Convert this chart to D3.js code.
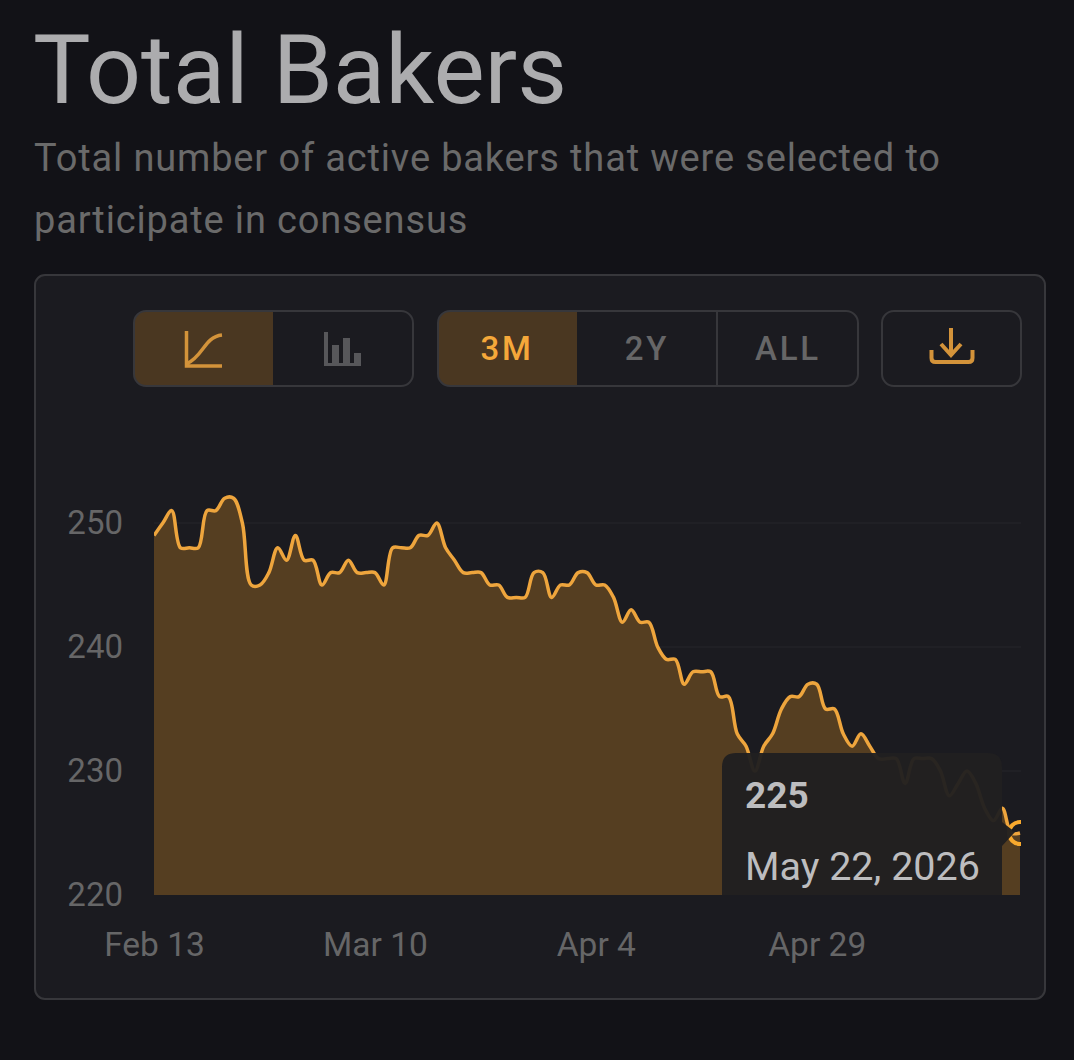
<!DOCTYPE html>
<html>
<head>
<meta charset="utf-8">
<title>Total Bakers</title>
<style type="text/css">
	html, body { margin: 0; padding: 0; background: #121217; }
	svg { display: block; font-family: Roboto, sans-serif; }
	.grid line { stroke: #202025; stroke-width: 2; }
	.axis text { fill: #666667; font-family: Roboto, sans-serif; }
	.axis path, .axis line { display: none; }
</style>
<script src="https://cdn.jsdelivr.net/npm/d3@7"></script>
</head>
<body>
<div id="chart"></div>
<script type="text/javascript">
var startDate = '2026-02-13';

// one value per day from Feb 13
var bakers = [
	249, 250, 251, 248, 248, 248, 251, 251, 252, 252,
	250, 245, 245, 246, 248, 247, 249, 247, 247, 245,
	246, 246, 247, 246, 246, 246, 245, 248, 248, 248,
	249, 249, 250, 248, 247, 246, 246, 246, 245, 245,
	244, 244, 244, 246, 246, 244, 245, 245, 246, 246,
	245, 245, 244, 242, 243, 242, 242, 240, 239, 239,
	237, 238, 238, 238, 236, 236, 233, 232, 230, 232,
	233, 235, 236, 236, 237, 237, 235, 235, 233, 232,
	233, 232, 231, 231, 231, 229, 231, 231, 231, 230,
	228, 229, 230, 229, 227, 226, 227, 225, 225
];

var yTicks = [220, 230, 240, 250];
var xTickLabels = ['Feb 13', 'Mar 10', 'Apr 4', 'Apr 29'];
var xTickDays = [0, 25, 50, 75];
var chartTypes = ['line', 'bar'];
var ranges = ['3M', '2Y', 'ALL'];
var tooltipValue = '225';
var tooltipDate = 'May 22, 2026';

var width = 1074, height = 1060;
var plot = { left: 154, right: 1021, top: 430, bottom: 895 };

var svg = d3.select('#chart').append('svg')
	.attr('width', width)
	.attr('height', height);

// heading
svg.append('text').attr('x', 33).attr('y', 102.5)
	.attr('fill', '#acacae').attr('font-size', 96.6).text('Total Bakers');
svg.append('text').attr('x', 34).attr('y', 171)
	.attr('fill', '#6a6a6a').attr('font-size', 38).attr('letter-spacing', 0.85)
	.text('Total number of active bakers that were selected to');
svg.append('text').attr('x', 34).attr('y', 233)
	.attr('fill', '#6a6a6a').attr('font-size', 38).attr('letter-spacing', 0.85)
	.text('participate in consensus');

// panel
svg.append('rect')
	.attr('x', 35).attr('y', 275).attr('width', 1010).attr('height', 724).attr('rx', 10)
	.attr('fill', '#1b1b20').attr('stroke', '#37373b').attr('stroke-width', 2);

// button groups
var activeFill = '#4a3721', btnStroke = '#37373b';
var drawGroup = function(x, w, cellWidths, activeIndex) {
	var y = 311, h = 75;
	var clipId = 'clip' + x;
	svg.append('clipPath').attr('id', clipId).append('rect')
		.attr('x', x).attr('y', y).attr('width', w).attr('height', h).attr('rx', 12);
	var g = svg.append('g');
	var pos = x;
	cellWidths.forEach(function(cw, i) {
		if (i == activeIndex) {
			g.append('rect').attr('x', pos).attr('y', y).attr('width', cw).attr('height', h)
				.attr('fill', activeFill).attr('clip-path', 'url(#' + clipId + ')');
		}
		else if (i > activeIndex + 1) {
			g.append('line').attr('x1', pos).attr('x2', pos).attr('y1', y).attr('y2', y + h)
				.attr('stroke', btnStroke).attr('stroke-width', 2);
		}
		pos += cw;
	});
	g.append('rect').attr('x', x).attr('y', y).attr('width', w).attr('height', h).attr('rx', 12)
		.attr('fill', 'none').attr('stroke', btnStroke).attr('stroke-width', 2);
};
drawGroup(134, 279, [139, 140], chartTypes.indexOf('line'));
drawGroup(438, 420, [139, 140, 141], ranges.indexOf('3M'));
drawGroup(882, 139, [139], -1);

// line icon
svg.append('path')
	.attr('d', 'M186.5 331V366H222M186.5 364C204 356 204 337 222 335')
	.attr('fill', 'none').attr('stroke', '#d3933a').attr('stroke-width', 3.5);
// bar icon
svg.append('path')
	.attr('d', 'M324 332h4v31h4v-18h7v18h4v-25h7v25h4v-10h7v13h-37z')
	.attr('fill', '#57575a');
// download icon
svg.append('path')
	.attr('d', 'M951 328V356M941 344L951 355L961 344M931.5 350V358Q931.5 362 935.5 362H968.5Q972.5 362 972.5 358V350')
	.attr('fill', 'none').attr('stroke', '#d3933a').attr('stroke-width', 4);

var rangeX = [507, 647, 788];
ranges.forEach(function(r, i) {
	svg.append('text').attr('x', rangeX[i]).attr('y', 360)
		.attr('text-anchor', 'middle').attr('font-size', 33).attr('font-weight', 500)
		.attr('letter-spacing', 2.8)
		.attr('fill', i == 0 ? '#f5a83a' : '#666667').text(r);
});

// scales and axes
var x = d3.scaleLinear().domain([0, 98]).range([154, 1020]);
var y = d3.scaleLinear().domain([220, 250]).range([plot.bottom, 523]);

svg.append('g').attr('class', 'grid').selectAll('line')
	.data(yTicks.filter(function(d) { return d > 220; }))
	.enter().append('line')
	.attr('x1', plot.left).attr('x2', plot.right)
	.attr('y1', function(d) { return y(d); })
	.attr('y2', function(d) { return y(d); });

var yAxis = svg.append('g').attr('class', 'axis')
	.attr('transform', 'translate(128,0)')
	.call(d3.axisLeft(y).tickValues(yTicks).tickSize(0).tickPadding(5));
yAxis.select('.domain').remove();
yAxis.selectAll('text').style('font-size', '33px');

var xAxis = svg.append('g').attr('class', 'axis')
	.attr('transform', 'translate(0,' + plot.bottom + ')')
	.call(d3.axisBottom(x).tickValues(xTickDays).tickSize(0).tickPadding(37)
		.tickFormat(function(d, i) { return xTickLabels[i]; }));
xAxis.select('.domain').remove();
xAxis.selectAll('text').style('font-size', '33.5px');

// series
var area = d3.area()
	.x(function(d, i) { return x(i); })
	.y0(plot.bottom)
	.y1(function(d) { return y(d); })
	.curve(d3.curveCatmullRom);
var line = d3.line()
	.x(function(d, i) { return x(i); })
	.y(function(d) { return y(d); })
	.curve(d3.curveCatmullRom);

svg.append('clipPath').attr('id', 'plotClip').append('rect')
	.attr('x', plot.left).attr('y', plot.top)
	.attr('width', plot.right - plot.left).attr('height', plot.bottom - plot.top);

var series = svg.append('g').attr('clip-path', 'url(#plotClip)');
series.append('path').datum(bakers).attr('d', area).attr('fill', '#553e21');
series.append('path').datum(bakers).attr('d', line)
	.attr('fill', 'none').attr('stroke', '#eea53d').attr('stroke-width', 3.5);

// hover marker on the last point
var last = bakers.length - 1;
series.append('circle')
	.attr('cx', x(last)).attr('cy', y(bakers[last])).attr('r', 11)
	.attr('fill', 'none').attr('stroke', '#f8a92e').attr('stroke-width', 4);

// tooltip, cut off by the plot bottom
var tip = series.append('g');
tip.append('path')
	.attr('d', 'M736 753H988Q1002 753 1002 767V822L1015 832L1002 846V910H722V767Q722 753 736 753Z')
	.attr('fill', '#201f20').attr('fill-opacity', 0.96);
tip.append('text').attr('x', 745).attr('y', 808)
	.attr('fill', '#bdbdbf').attr('font-size', 37).attr('font-weight', 700).text(tooltipValue);
tip.append('text').attr('x', 745).attr('y', 880)
	.attr('fill', '#bdbdbf').attr('font-size', 39.5).text(tooltipDate);
</script>
</body>
</html>
